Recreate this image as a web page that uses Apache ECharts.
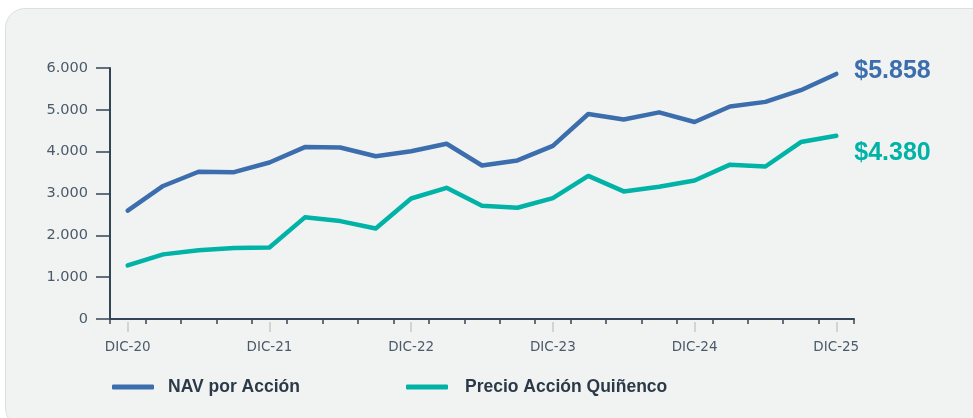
<!DOCTYPE html>
<html>
<head>
<meta charset="utf-8">
<script src="https://cdn.jsdelivr.net/npm/echarts@6/dist/echarts.min.js"></script>
<style>
  html, body { margin:0; padding:0; background:#ffffff; width:973px; height:418px; overflow:hidden; }
  #panel { position:absolute; left:5px; top:8px; width:990px; height:420px; background:#f1f3f3; border:1px solid #dcdfe0; border-radius:20px; box-sizing:border-box; }
  #chart { position:absolute; left:0; top:0; width:973px; height:418px; }
</style>
</head>
<body>
<div id="panel"></div>
<div id="chart"></div>
<script>
const categories = [
  'DIC-20','MAR-21','JUN-21','SEP-21','DIC-21','MAR-22','JUN-22','SEP-22','DIC-22',
  'MAR-23','JUN-23','SEP-23','DIC-23','MAR-24','JUN-24','SEP-24','DIC-24',
  'MAR-25','JUN-25','SEP-25','DIC-25'
];
const navPorAccion = [2590, 3180, 3520, 3510, 3740, 4110, 4100, 3890, 4010, 4190, 3670, 3790, 4140, 4900, 4770, 4940, 4710, 5080, 5190, 5470, 5858];
const precioAccion = [1280, 1545, 1645, 1700, 1710, 2430, 2340, 2165, 2880, 3135, 2705, 2660, 2890, 3420, 3050, 3160, 3310, 3690, 3645, 4230, 4380];
const yTicks = { min: 0, max: 6000, interval: 1000 };
const seriesNames = ['NAV por Acción', 'Precio Acción Quiñenco'];

const fmt = v => String(Math.round(v)).replace(/\B(?=(\d{3})+(?!\d))/g, '.');

const blue = '#3c6eae';
const teal = '#00b3a6';
const axisColor = '#334455';
const labelColor = '#4b5a69';

const legendText = { fontFamily: 'Liberation Sans', fontWeight: 'bold', fontSize: 17.5, color: '#2c3a48', padding: [0, 0, 0, 9] };

const chart = echarts.init(document.getElementById('chart'), null, { renderer: 'canvas' });
chart.setOption({
  backgroundColor: 'transparent',
  animation: false,
  grid: { left: 110, right: 119, top: 68, bottom: 99, containLabel: false },
  legend: [
    { data: [seriesNames[0]], left: 112, top: 378, padding: 0, icon: 'roundRect', itemWidth: 42, itemHeight: 5, textStyle: legendText },
    { data: [seriesNames[1]], left: 406, top: 378, padding: 0, icon: 'roundRect', itemWidth: 42, itemHeight: 5, textStyle: Object.assign({}, legendText, { padding: [0, 0, 0, 12] }) }
  ],
  xAxis: [
    {
      type: 'category', data: categories, boundaryGap: true,
      axisLine: { show: true, lineStyle: { color: axisColor, width: 2 } },
      axisTick: { show: true, interval: 0, alignWithLabel: false, length: 5, lineStyle: { color: axisColor, width: 1.5 } },
      axisLabel: { interval: 3, margin: 21, color: labelColor, fontFamily: 'DejaVu Sans', fontSize: 13.5 },
      splitLine: { show: false }
    },
    {
      type: 'category', data: categories, boundaryGap: true, position: 'bottom', offset: 3,
      axisLine: { show: false },
      axisTick: { show: true, interval: 3, alignWithLabel: true, length: 10, lineStyle: { color: '#c5cacd', width: 1.5 } },
      axisLabel: { show: false },
      splitLine: { show: false }
    }
  ],
  yAxis: {
    type: 'value', min: yTicks.min, max: yTicks.max, interval: yTicks.interval,
    axisLine: { show: true, lineStyle: { color: axisColor, width: 2 } },
    axisTick: { show: true, length: 14, lineStyle: { color: axisColor, width: 1.5 } },
    axisLabel: { margin: 22, color: labelColor, fontFamily: 'DejaVu Sans', fontSize: 14.5, formatter: v => fmt(v) },
    splitLine: { show: false }
  },
  series: [
    {
      name: seriesNames[0], type: 'line', data: navPorAccion, symbol: 'none', xAxisIndex: 0,
      lineStyle: { color: blue, width: 4.5, cap: 'round', join: 'round' },
      itemStyle: { color: blue },
      endLabel: {
        show: true, distance: 18, offset: [0, -3],
        formatter: p => '$' + fmt(p.value),
        color: blue, fontFamily: 'Liberation Sans', fontWeight: 'bold', fontSize: 25
      }
    },
    {
      name: seriesNames[1], type: 'line', data: precioAccion, symbol: 'none', xAxisIndex: 0,
      lineStyle: { color: teal, width: 4.5, cap: 'round', join: 'round' },
      itemStyle: { color: teal },
      endLabel: {
        show: true, distance: 18, offset: [0, 17],
        formatter: p => '$' + fmt(p.value),
        color: teal, fontFamily: 'Liberation Sans', fontWeight: 'bold', fontSize: 25
      }
    }
  ]
});
</script>
</body>
</html>
